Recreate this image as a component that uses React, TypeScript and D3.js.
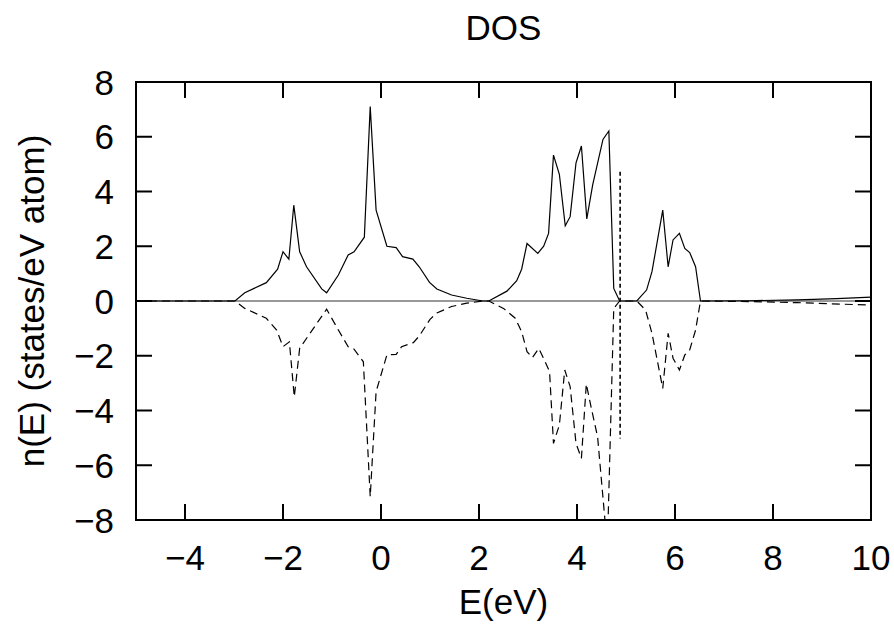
import React, { useEffect, useRef } from 'react';
import * as d3 from 'd3';

// spin-up DOS (solid)
const upEnergy = [-5, -2.98, -2.78, -2.34, -2.11, -2.0, -1.88, -1.78, -1.66, -1.52, -1.21, -1.11, -0.87, -0.67, -0.55, -0.34, -0.22, -0.1, 0.12, 0.31, 0.44, 0.65, 0.78, 0.99, 1.14, 1.44, 1.75, 2.08, 2.2, 2.57, 2.77, 2.87, 2.98, 3.2, 3.32, 3.42, 3.52, 3.64, 3.76, 3.86, 3.98, 4.09, 4.2, 4.32, 4.53, 4.65, 4.75, 4.87, 5.22, 5.42, 5.53, 5.75, 5.86, 5.96, 6.09, 6.2, 6.3, 6.42, 6.52, 7.5, 8.5, 9.3, 10];
const upDos = [0, 0, 0.3, 0.67, 1.16, 1.8, 1.53, 3.5, 1.8, 1.25, 0.44, 0.3, 0.95, 1.68, 1.8, 2.33, 7.1, 3.32, 2.0, 1.95, 1.62, 1.53, 1.25, 0.68, 0.44, 0.22, 0.1, 0, 0, 0.36, 0.74, 1.16, 2.1, 1.74, 2.0, 2.47, 5.33, 4.63, 2.75, 3.08, 5.05, 5.66, 3.0, 4.24, 5.9, 6.21, 0.46, 0, 0, 0.4, 1.07, 3.32, 1.25, 2.23, 2.47, 1.92, 1.77, 1.25, 0, 0.01, 0.04, 0.09, 0.14];

// spin-down DOS (dashed)
const downEnergy = [-5, -2.98, -2.78, -2.34, -2.13, -2.0, -1.87, -1.77, -1.66, -1.11, -0.87, -0.67, -0.55, -0.36, -0.22, -0.1, 0.12, 0.31, 0.42, 0.66, 0.78, 1.0, 1.14, 1.44, 1.75, 2.08, 2.2, 2.5, 2.74, 2.87, 2.98, 3.09, 3.22, 3.32, 3.44, 3.52, 3.64, 3.75, 3.86, 3.98, 4.09, 4.19, 4.3, 4.42, 4.62, 4.75, 4.87, 5.22, 5.4, 5.53, 5.75, 5.86, 5.96, 6.09, 6.2, 6.3, 6.42, 6.52, 7.5, 8.5, 10];
const downDos = [0, 0, -0.27, -0.63, -1.06, -1.67, -1.49, -3.5, -1.73, -0.3, -1.06, -1.67, -1.76, -2.22, -7.15, -3.31, -1.97, -1.95, -1.67, -1.52, -1.28, -0.67, -0.44, -0.2, -0.08, 0, 0, -0.27, -0.63, -1.12, -1.85, -2.07, -1.73, -2.1, -2.58, -5.2, -4.53, -2.52, -3.13, -5.2, -5.75, -3.03, -3.98, -4.96, -9.0, -0.27, 0, 0, -0.33, -1.18, -3.19, -1.18, -2.09, -2.52, -1.97, -1.79, -1.06, 0, -0.02, -0.06, -0.15];

// Fermi level marker (short dashes)
const fermiEnergy = [4.88, 4.88];
const fermiDos = [4.72, -5.02];

const xTicks = [-4, -2, 0, 2, 4, 6, 8, 10];
const yTicks = [-8, -6, -4, -2, 0, 2, 4, 6, 8];

const App = () => {
  const svgRef = useRef<SVGSVGElement>(null);

  useEffect(() => {
    const svg = d3.select(svgRef.current);
    svg.selectAll("*").remove();

    const left = 136, right = 871, top = 82, bottom = 520;
    const x = d3.scaleLinear().domain([-5, 10]).range([left, right]);
    const y = d3.scaleLinear().domain([-8, 8]).range([bottom, top]);
    const font = "'Liberation Sans', Arial, Helvetica, sans-serif";
    const fs = "35px";

    svg.append("defs").append("clipPath").attr("id", "plot-clip")
      .append("rect").attr("x", left).attr("y", top).attr("width", right - left).attr("height", bottom - top);

    // zero axis
    svg.append("line")
      .attr("x1", x(-5)).attr("x2", x(10)).attr("y1", y(0)).attr("y2", y(0))
      .attr("stroke", "#333").attr("stroke-width", 1);

    const line = d3.line<[number, number]>().x(d => x(d[0])).y(d => y(d[1]));
    const plot = svg.append("g").attr("clip-path", "url(#plot-clip)");

    const series = [
      { e: upEnergy, v: upDos, dash: null, w: 1.2 },
      { e: downEnergy, v: downDos, dash: "8,5", w: 1.2 },
      { e: fermiEnergy, v: fermiDos, dash: "4,3", w: 1.6 },
    ];
    series.forEach(s => {
      plot.append("path")
        .datum(s.e.map((e, i) => [e, s.v[i]] as [number, number]))
        .attr("d", line)
        .attr("fill", "none")
        .attr("stroke", "#000")
        .attr("stroke-width", s.w)
        .attr("stroke-dasharray", s.dash);
    });

    // frame + mirrored ticks
    svg.append("rect")
      .attr("x", left).attr("y", top).attr("width", right - left).attr("height", bottom - top)
      .attr("fill", "none").attr("stroke", "#000").attr("stroke-width", 2);

    const tl = 16;
    xTicks.forEach(t => {
      svg.append("line").attr("x1", x(t)).attr("x2", x(t)).attr("y1", bottom).attr("y2", bottom - tl).attr("stroke", "#000").attr("stroke-width", 2);
      svg.append("line").attr("x1", x(t)).attr("x2", x(t)).attr("y1", top).attr("y2", top + tl).attr("stroke", "#000").attr("stroke-width", 2);
      svg.append("text").attr("x", x(t)).attr("y", 570).attr("text-anchor", "middle")
        .style("font-family", font).style("font-size", fs)
        .text(t < 0 ? `\u2212${-t}` : `${t}`);
    });
    yTicks.forEach(t => {
      svg.append("line").attr("x1", left).attr("x2", left + tl).attr("y1", y(t)).attr("y2", y(t)).attr("stroke", "#000").attr("stroke-width", 2);
      svg.append("line").attr("x1", right).attr("x2", right - tl).attr("y1", y(t)).attr("y2", y(t)).attr("stroke", "#000").attr("stroke-width", 2);
      svg.append("text").attr("x", 114).attr("y", y(t) + 12.5).attr("text-anchor", "end")
        .style("font-family", font).style("font-size", fs)
        .text(t < 0 ? `\u2212${-t}` : `${t}`);
    });

    svg.append("text").attr("x", (left + right) / 2).attr("y", 40).attr("text-anchor", "middle")
      .style("font-family", font).style("font-size", fs).text("DOS");
    svg.append("text").attr("x", (left + right) / 2).attr("y", 614).attr("text-anchor", "middle")
      .style("font-family", font).style("font-size", fs).text("E(eV)");
    svg.append("text").attr("transform", "translate(44,301) rotate(-90)").attr("text-anchor", "middle")
      .style("font-family", font).style("font-size", fs).text("n(E) (states/eV atom)");
  }, []);

  return (
    <svg ref={svgRef} width={894} height={632}
      style={{ position: 'absolute', left: 0, top: 0, background: '#fff' }} />
  );
};

export default App;
